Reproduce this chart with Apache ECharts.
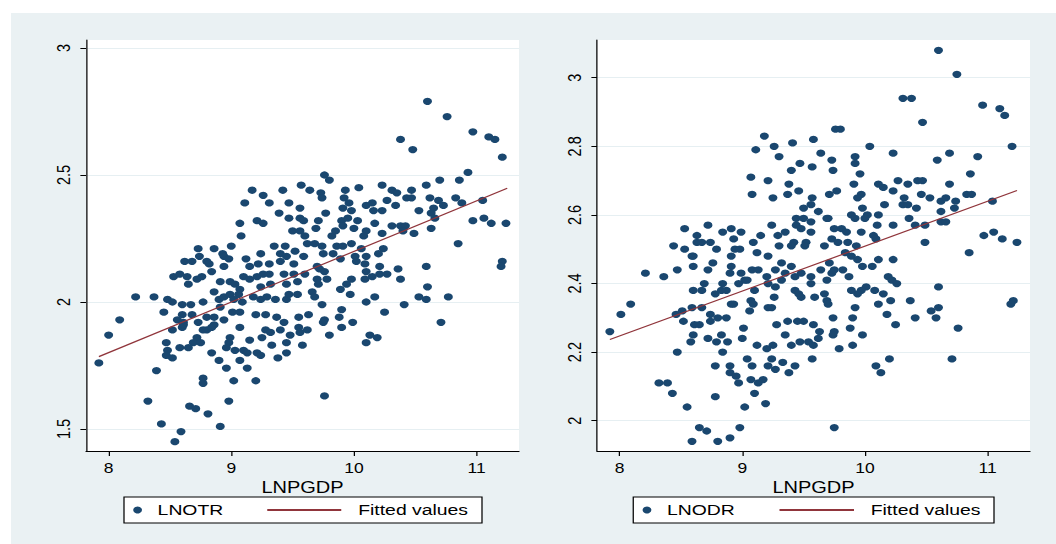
<!DOCTYPE html>
<html>
<head>
<meta charset="utf-8">
<script src="https://cdn.jsdelivr.net/npm/echarts@6/dist/echarts.min.js"></script>
<style>
html,body{margin:0;padding:0;background:#ffffff;width:1056px;height:544px;overflow:hidden;}
#panel{position:absolute;left:11px;top:13px;width:1045px;height:531px;background:#EAF1F3;}
#chart{position:absolute;left:0;top:0;width:845px;height:544px;transform:scaleX(1.25);transform-origin:0 0;}
</style>
</head>
<body>
<div id="panel"></div>
<div id="chart"></div>
<script>
// ---- data ----
const xTicks = [8, 9, 10, 11];
const yTicksOTR = [1.5, 2, 2.5, 3];
const yTicksODR = [2, 2.2, 2.4, 2.6, 2.8, 3];

const lnotr = [
[9.17,2.44],[9.26,2.42],[9.42,2.44],[9.57,2.46],[9.11,2.39],[9.31,2.39],[9.47,2.39],[9.56,2.37],[9.39,2.35],[9.47,2.33],[9.56,2.33],[9.07,2.31],[9.21,2.32],[9.26,2.31],[9.50,2.28],[9.56,2.28],[9.08,2.26],[8.73,2.21],[8.86,2.21],[9.00,2.22],[8.93,2.19],[8.94,2.18],[8.74,2.18],[8.80,2.16],[8.82,2.15],[8.98,2.17],[9.12,2.17],[9.24,2.19],[9.35,2.22],[9.44,2.22],[9.52,2.20],[9.40,2.19],[9.45,2.18],[9.51,2.15],[9.40,2.16],[8.62,2.16],[8.68,2.16],[9.22,2.15],[9.31,2.15],[9.15,2.14],[8.94,2.14],
[10.60,2.79],[10.76,2.73],[10.38,2.64],[10.48,2.60],[10.97,2.67],[11.10,2.65],[11.15,2.64],[11.21,2.57],[9.76,2.50],[9.80,2.48],[10.93,2.51],[10.70,2.48],[10.86,2.48],
[9.64,2.44],[9.73,2.43],[9.74,2.41],[9.93,2.44],[9.92,2.41],[10.04,2.45],[10.23,2.46],[10.31,2.44],[10.35,2.43],[10.47,2.44],[10.59,2.46],[10.43,2.41],[10.47,2.41],[10.27,2.40],[10.62,2.41],[10.69,2.40],[10.83,2.41],[10.88,2.39],[11.05,2.40],
[9.96,2.39],[9.91,2.37],[9.98,2.36],[10.10,2.38],[10.15,2.39],[10.16,2.36],[10.23,2.36],[10.34,2.38],[10.53,2.36],[10.65,2.37],[10.63,2.35],[10.73,2.38],[9.77,2.35],
[9.59,2.32],[9.71,2.32],[9.69,2.29],[9.90,2.32],[9.95,2.33],[9.91,2.30],[10.03,2.32],[10.00,2.29],[10.17,2.31],[10.31,2.30],[10.38,2.30],[10.42,2.30],[10.66,2.33],[10.97,2.32],[11.06,2.33],[11.12,2.31],[11.24,2.31],
[9.60,2.26],[9.82,2.26],[9.85,2.28],[10.10,2.28],[10.08,2.26],[10.23,2.27],[10.40,2.28],[10.49,2.27],[10.63,2.29],
[9.62,2.23],[9.68,2.23],[9.74,2.22],[9.86,2.22],[9.91,2.22],[9.98,2.23],[10.06,2.21],[10.24,2.21],[10.20,2.19],[10.85,2.23],
[9.59,2.18],[9.75,2.19],[9.83,2.19],[9.89,2.17],[10.01,2.18],[10.10,2.18],[10.02,2.16],[10.09,2.15],[10.21,2.14],[9.70,2.14],[9.72,2.13],[10.36,2.13],[10.59,2.14],[11.21,2.16],[11.20,2.14],
[8.53,2.10],[8.58,2.11],[8.64,2.10],[8.65,2.07],[8.72,2.09],[8.76,2.10],[8.84,2.12],
[8.91,2.08],[8.99,2.08],[9.03,2.07],[9.10,2.10],[9.15,2.09],[9.21,2.10],[9.26,2.11],[9.31,2.11],[9.43,2.11],[9.51,2.11],
[9.24,2.06],[9.32,2.07],[9.45,2.07],[9.54,2.08],[9.07,2.05],[8.86,2.04],
[8.22,2.02],[8.37,2.02],[8.48,2.01],[8.52,2.00],[8.60,1.99],[8.67,1.99],[8.77,2.00],[8.90,2.01],[8.94,2.02],[8.99,2.03],[9.06,2.03],[9.09,2.00],[9.02,2.01],[9.18,2.02],[9.24,2.01],[9.29,2.02],[9.36,2.01],[9.45,2.01],[9.47,2.03],[9.54,2.03],
[8.91,1.98],[9.01,1.96],[9.07,1.96],[8.45,1.96],[8.60,1.95],[8.68,1.95],[8.56,1.93],[8.61,1.92],[8.73,1.92],[8.80,1.94],[8.86,1.94],[8.94,1.93],[8.86,1.91],[8.80,1.89],[8.84,1.90],[8.77,1.89],
[8.09,1.93],[8.00,1.87],[8.52,1.89],[8.60,1.90],[8.61,1.91],[9.07,1.90],[9.20,1.95],[9.28,1.95],[9.37,1.94],[9.43,1.92],[9.55,1.94],[9.28,1.89],[9.32,1.88],[9.40,1.89],[9.48,1.87],[9.55,1.90],[9.56,1.88],
[8.72,1.86],[8.69,1.84],[8.75,1.84],[8.47,1.84],[8.58,1.82],[8.65,1.82],[8.99,1.86],[8.98,1.84],[8.96,1.82],[9.15,1.85],[9.25,1.86],[9.33,1.83],[9.45,1.84],[9.58,1.83],
[8.48,1.81],[8.47,1.79],[8.52,1.78],[8.84,1.80],[9.03,1.81],[9.10,1.81],[9.13,1.80],[9.07,1.77],[9.21,1.80],[9.24,1.79],[9.38,1.78],[9.45,1.80],
[7.92,1.76],[8.90,1.77],[8.96,1.74],[8.39,1.73],[9.13,1.74],[8.77,1.70],[8.77,1.68],[9.02,1.69],[9.20,1.69],[8.32,1.61],[8.66,1.59],[8.71,1.58],[8.98,1.61],[8.81,1.56],[8.43,1.52],[8.91,1.51],[8.59,1.49],[8.54,1.45],
[9.60,2.11],[9.76,2.12],[9.70,2.09],[9.78,2.09],[9.71,2.07],[9.66,2.04],[9.68,2.02],[9.89,2.05],[9.94,2.07],[9.98,2.09],[9.97,2.03],[10.09,2.09],[10.10,2.12],[10.15,2.10],[10.21,2.11],[10.27,2.11],[10.38,2.09],[10.60,2.06],[10.17,2.02],[10.10,2.00],[10.41,1.99],[10.53,2.02],[10.59,2.01],[10.77,2.02],[9.74,1.99],[9.90,1.97],[9.88,1.94],[10.25,1.96],[9.63,1.95],[9.75,1.92],[9.76,1.93],[9.99,1.92],[10.71,1.92],[9.62,1.89],[9.90,1.90],[9.80,1.87],[10.13,1.87],[10.19,1.86],[10.10,1.84],[9.76,1.63]
];

const lnodr = [
[9.18,2.83],[9.11,2.79],[9.26,2.80],[9.41,2.81],[9.58,2.82],[9.30,2.77],[9.47,2.75],[9.57,2.74],[9.40,2.73],[9.07,2.71],[9.21,2.70],[9.38,2.69],[9.46,2.67],[9.08,2.66],[9.25,2.65],[9.37,2.66],[9.57,2.65],[9.50,2.62],[9.56,2.63],[9.44,2.59],[9.50,2.59],[9.44,2.57],[9.48,2.56],[9.56,2.58],[9.24,2.57],[8.53,2.56],[8.72,2.57],[8.84,2.55],[8.91,2.56],[8.99,2.55],[8.63,2.54],[8.63,2.52],[8.67,2.52],[8.74,2.52],[8.93,2.53],[9.15,2.54],[9.29,2.54],[9.35,2.55],[9.42,2.52],[9.52,2.52],[9.56,2.55],[9.09,2.52],[9.30,2.51],[8.44,2.51],[8.53,2.50],[8.79,2.50],[8.94,2.50],[8.98,2.50],[9.40,2.51],[9.51,2.51],
[10.60,3.08],[10.75,3.01],[10.31,2.94],[10.38,2.94],[10.96,2.92],[11.10,2.91],[11.14,2.89],[10.47,2.87],[9.76,2.85],[9.80,2.85],[10.04,2.80],[11.20,2.80],[9.64,2.78],[9.73,2.76],[9.74,2.73],[9.92,2.77],[9.92,2.75],[10.23,2.78],[10.69,2.78],[10.59,2.76],[10.92,2.77],[9.96,2.72],[10.86,2.72],[9.91,2.69],[10.11,2.69],[10.15,2.68],[10.27,2.70],[10.35,2.69],[10.43,2.70],[10.47,2.70],[10.69,2.69],[9.71,2.66],[9.77,2.67],[9.97,2.66],[9.94,2.65],[10.23,2.67],[10.46,2.66],[10.53,2.65],[10.32,2.65],[10.62,2.64],[10.66,2.65],[10.83,2.66],[10.87,2.66],[10.74,2.64],[9.98,2.62],[10.16,2.63],[10.31,2.63],[10.35,2.63],[10.42,2.62],[10.73,2.62],[11.04,2.64],[9.62,2.61],[10.62,2.61],[9.69,2.59],[9.70,2.59],[9.89,2.60],[9.92,2.59],[10.02,2.60],[10.00,2.59],[10.11,2.60],[10.36,2.59],[10.62,2.58],[10.66,2.58],[10.10,2.57],[10.23,2.57],[10.41,2.57],[10.49,2.57],[9.75,2.56],[9.81,2.56],[9.85,2.55],[9.97,2.55],[10.07,2.54],[10.09,2.53],[10.97,2.54],[11.05,2.55],[11.12,2.53],[11.24,2.52],[10.49,2.52],[9.67,2.51],[9.73,2.53],[9.78,2.52],[9.86,2.52],[9.93,2.51],
[8.59,2.48],[8.60,2.48],[8.91,2.48],[9.12,2.49],[9.21,2.48],[9.32,2.46],[9.40,2.45],
[8.21,2.43],[8.36,2.42],[8.47,2.44],[8.60,2.45],[8.72,2.44],[8.76,2.46],[8.90,2.43],[8.91,2.45],[8.99,2.43],[9.02,2.41],[8.97,2.40],[9.08,2.44],[9.13,2.44],[9.20,2.42],[9.27,2.44],[9.35,2.43],[9.43,2.42],[9.48,2.43],[9.56,2.42],
[8.69,2.40],[8.60,2.38],[8.67,2.38],[8.84,2.40],[8.78,2.37],[8.83,2.38],[8.87,2.38],[9.04,2.41],[9.10,2.38],[9.07,2.35],[9.09,2.34],[9.21,2.40],[9.27,2.39],[9.26,2.36],[9.32,2.41],[9.43,2.38],[9.46,2.37],[9.48,2.36],[9.56,2.40],
[8.09,2.34],[8.01,2.31],[7.92,2.26],[8.46,2.31],[8.51,2.32],[8.59,2.33],[8.67,2.33],[8.91,2.34],[8.93,2.34],[9.06,2.32],[9.21,2.33],[9.24,2.33],[8.74,2.31],[8.74,2.29],[8.80,2.30],[8.87,2.30],[8.52,2.29],[8.61,2.28],[8.65,2.28],[9.01,2.27],[9.28,2.28],[9.37,2.29],[9.45,2.29],[9.50,2.29],[9.58,2.28],
[8.60,2.25],[8.58,2.23],[8.72,2.24],[8.79,2.23],[8.83,2.25],[8.88,2.23],[8.84,2.20],[9.00,2.24],[9.12,2.22],[9.25,2.22],[9.20,2.21],[9.35,2.25],[9.40,2.22],[9.47,2.23],[9.54,2.23],[9.58,2.22],
[8.47,2.20],[9.04,2.18],[9.08,2.16],[9.24,2.18],[9.21,2.16],[9.27,2.15],[9.33,2.17],[9.38,2.14],[9.43,2.16],[9.57,2.18],[8.78,2.16],[8.90,2.16],[8.90,2.14],[8.95,2.13],[8.97,2.11],[9.07,2.12],[9.13,2.11],[9.17,2.12],[8.32,2.11],[8.39,2.11],[8.43,2.08],[8.78,2.07],[9.10,2.08],[9.19,2.05],[8.55,2.04],[9.02,2.04],[8.65,1.98],[8.71,1.97],[8.98,1.98],[8.90,1.95],[8.59,1.94],[8.80,1.94],
[9.71,2.46],[9.84,2.49],[9.89,2.48],[9.94,2.47],[9.98,2.45],[10.06,2.45],[10.11,2.47],[10.23,2.47],[10.85,2.49],
[9.64,2.44],[9.73,2.43],[9.75,2.44],[9.82,2.44],[9.87,2.42],[9.69,2.41],
[10.19,2.42],[10.22,2.41],[10.26,2.40],[10.01,2.39],[9.97,2.38],[9.94,2.37],[10.08,2.38],[10.15,2.37],[9.89,2.38],[10.60,2.39],
[9.67,2.37],[9.69,2.35],[9.70,2.34],[9.59,2.36],[10.11,2.34],[10.21,2.35],[10.37,2.35],[9.92,2.33],[9.90,2.30],[9.74,2.30],[10.18,2.31],[10.25,2.28],[10.41,2.30],[10.54,2.32],[10.60,2.33],[10.58,2.30],[10.76,2.27],[11.21,2.35],[11.19,2.34],
[9.63,2.26],[9.62,2.24],[9.75,2.26],[9.74,2.25],[9.88,2.27],[9.98,2.25],[9.79,2.21],[9.90,2.22],[10.20,2.18],[10.09,2.16],[10.13,2.14],[10.71,2.18],[9.75,1.98]
];

// fitted-value line end points
const fitOTR = [[7.92, 1.785], [11.25, 2.448]];
const fitODR = [[7.92, 2.237], [11.24, 2.671]];

// ---- styling ----
const FONT = '"Liberation Sans", Arial, sans-serif';
const NAVY = '#1A476F';
const MAROON = '#90353B';
const GRIDC = '#E6EFF2';

function xAxisOpt(gi) {
  return {
    type: 'value', gridIndex: gi, min: 7.815, max: 11.346,
    name: 'LNPGDP', nameLocation: 'middle', nameGap: 23,
    nameTextStyle: { fontSize: 16, color: '#000', fontFamily: FONT },
    axisLine: { show: true, onZero: false, lineStyle: { color: '#000', width: 1 } },
    axisTick: { show: true, length: 5, customValues: xTicks, lineStyle: { color: '#000', width: 1 } },
    axisLabel: { show: true, customValues: xTicks, margin: 10, fontSize: 14, color: '#000', fontFamily: FONT },
    splitLine: { show: false }
  };
}
function yAxisOpt(gi, mn, mx, ticks) {
  return {
    type: 'value', gridIndex: gi, min: mn, max: mx,
    axisLine: { show: true, onZero: false, lineStyle: { color: '#000', width: 1 } },
    axisTick: { show: true, length: 4.5, customValues: ticks, lineStyle: { color: '#000', width: 1 } },
    axisLabel: { show: true, customValues: ticks, rotate: 90, margin: 11, fontSize: 14.5, color: '#000', fontFamily: FONT },
    splitLine: { show: true, lineStyle: { color: GRIDC, width: 1 } }
  };
}
function scatterSeries(name, data, gi) {
  return { type: 'scatter', name: name, xAxisIndex: gi, yAxisIndex: gi, data: data,
    symbol: 'circle', symbolSize: 7.2, itemStyle: { color: NAVY, opacity: 1 }, z: 2, animation: false };
}
function fitSeries(gi, data) {
  return { type: 'line', name: 'Fitted values', xAxisIndex: gi, yAxisIndex: gi, data: data,
    symbol: 'none', showSymbol: false, lineStyle: { color: MAROON, width: 1.2 }, itemStyle: { color: MAROON }, z: 3, animation: false };
}
function legendOpt(left, name, iw, ih, padLeft) {
  return {
    left: left, top: 502, orient: 'horizontal', padding: 0, itemGap: 0,
    itemWidth: iw, itemHeight: ih, data: [name], selectedMode: false,
    textStyle: { fontSize: 15.5, color: '#000', fontFamily: FONT, padding: [0, 0, 0, padLeft] }
  };
}

const chart = echarts.init(document.getElementById('chart'), null, { renderer: 'svg', width: 845, height: 544 });
chart.setOption({
  animation: false,
  backgroundColor: 'transparent',
  grid: [
    { left: 68.8, top: 40, width: 346.4, height: 411, show: true, backgroundColor: '#ffffff', borderWidth: 0, containLabel: false },
    { left: 477.6, top: 40, width: 346.4, height: 411, show: true, backgroundColor: '#ffffff', borderWidth: 0, containLabel: false }
  ],
  xAxis: [xAxisOpt(0), xAxisOpt(1)],
  yAxis: [yAxisOpt(0, 1.4134, 3.0315, yTicksOTR), yAxisOpt(1, 1.9117, 3.11, yTicksODR)],
  graphic: [
    { type: 'rect', shape: { x: 99.2, y: 497, width: 286.4, height: 26 }, style: { fill: '#ffffff', stroke: '#000', lineWidth: 1 }, z: -1 },
    { type: 'rect', shape: { x: 506.6, y: 497, width: 288.6, height: 26 }, style: { fill: '#ffffff', stroke: '#000', lineWidth: 1 }, z: -1 }
  ],
  legend: [
    Object.assign(legendOpt(106.6, 'LNOTR', 22, 7, 0), { icon: 'circle' }),
    Object.assign(legendOpt(212.8, 'Fitted values', 59.2, 2, 8.6), {}),
    Object.assign(legendOpt(514.1, 'LNODR', 22, 7, 0), { icon: 'circle' }),
    Object.assign(legendOpt(622.6, 'Fitted values', 59.6, 2, 8.4), {})
  ],
  series: [
    scatterSeries('LNOTR', lnotr, 0),
    fitSeries(0, fitOTR),
    scatterSeries('LNODR', lnodr, 1),
    fitSeries(1, fitODR)
  ]
});
</script>
</body>
</html>
